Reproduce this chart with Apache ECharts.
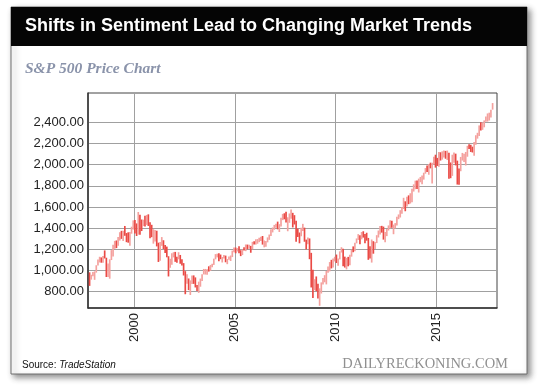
<!DOCTYPE html>
<html>
<head>
<meta charset="utf-8">
<script src="https://cdn.jsdelivr.net/npm/echarts@6/dist/echarts.min.js"></script>
<style>
html,body{margin:0;padding:0;background:#fff;}
#chart{width:540px;height:386px;}
</style>
</head>
<body>
<div id="chart"></div>
<script>
// Monthly bars, Oct 1997 – Oct 2017
const startMonth = "1997-10";
const closes = [
914.6, 955.4, 970.4,
980.3, 1049.3, 1101.8, 1111.8, 1090.8, 1133.8, 1120.7, 957.3, 1017.0, 1098.7, 1163.6, 1229.2,
1279.6, 1238.3, 1286.4, 1335.2, 1301.8, 1372.7, 1328.7, 1320.4, 1282.7, 1362.9, 1389.0, 1469.3,
1394.5, 1366.4, 1498.6, 1452.4, 1420.6, 1454.6, 1430.8, 1517.7, 1436.5, 1429.4, 1315.0, 1320.3,
1366.0, 1239.9, 1160.3, 1249.5, 1256.0, 1224.4, 1211.2, 1133.6, 1040.9, 1059.8, 1139.5, 1148.1,
1130.2, 1106.7, 1147.4, 1076.9, 1067.1, 989.8, 911.6, 916.1, 815.3, 885.8, 936.3, 879.8,
855.7, 841.2, 848.2, 916.9, 963.6, 974.5, 990.3, 1008.0, 996.0, 1050.7, 1058.2, 1111.9,
1131.1, 1144.9, 1126.2, 1107.3, 1120.7, 1140.8, 1101.7, 1104.2, 1114.6, 1130.2, 1173.8, 1211.9,
1181.3, 1203.6, 1180.6, 1156.9, 1191.5, 1191.3, 1234.2, 1220.3, 1228.8, 1207.0, 1249.5, 1248.3,
1280.1, 1280.7, 1294.9, 1310.6, 1270.1, 1270.2, 1276.7, 1303.8, 1335.9, 1377.9, 1400.6, 1418.3,
1438.2, 1406.8, 1420.9, 1482.4, 1530.6, 1503.4, 1455.3, 1474.0, 1526.8, 1549.4, 1481.1, 1468.4,
1378.6, 1330.6, 1322.7, 1385.6, 1400.4, 1280.0, 1267.4, 1282.8, 1166.4, 968.8, 896.2, 903.3,
825.9, 735.1, 797.9, 872.8, 919.1, 919.3, 987.5, 1020.6, 1057.1, 1036.2, 1095.6, 1115.1,
1073.9, 1104.5, 1169.4, 1186.7, 1089.4, 1030.7, 1101.6, 1049.3, 1141.2, 1183.3, 1180.6, 1257.6,
1286.1, 1327.2, 1325.8, 1363.6, 1345.2, 1320.6, 1292.3, 1218.9, 1131.4, 1253.3, 1247.0, 1257.6,
1312.4, 1365.7, 1408.5, 1397.9, 1310.3, 1362.2, 1379.3, 1406.6, 1440.7, 1412.2, 1416.2, 1426.2,
1498.1, 1514.7, 1569.2, 1597.6, 1630.7, 1606.3, 1685.7, 1633.0, 1681.6, 1756.5, 1805.8, 1848.4,
1782.6, 1859.5, 1872.3, 1884.0, 1923.6, 1960.2, 1930.7, 2003.4, 1972.3, 2018.1, 2067.6, 2058.9,
1995.0, 2104.5, 2067.9, 2085.5, 2107.4, 2063.1, 2104.0, 1972.2, 1920.0, 2079.4, 2080.4, 2043.9,
1940.2, 1932.2, 2059.7, 2065.3, 2097.0, 2098.9, 2173.6, 2171.0, 2168.3, 2126.2, 2198.8, 2238.8,
2278.9, 2363.6, 2362.7, 2384.2, 2411.8, 2423.4, 2470.3, 2471.7, 2519.4, 2575.3
];
const opens = [
947.0, 914.6, 955.4,
970.4, 980.3, 1049.3, 1101.8, 1111.8, 1090.8, 1133.8, 1120.7, 957.3, 1017.0, 1098.7, 1163.6,
1229.2, 1279.6, 1238.3, 1286.4, 1335.2, 1301.8, 1372.7, 1328.7, 1320.4, 1282.7, 1362.9, 1389.0,
1469.3, 1394.5, 1366.4, 1498.6, 1452.4, 1420.6, 1454.6, 1430.8, 1517.7, 1436.5, 1429.4, 1315.0,
1320.3, 1366.0, 1239.9, 1160.3, 1249.5, 1256.0, 1224.4, 1211.2, 1133.6, 1040.9, 1059.8, 1139.5,
1148.1, 1130.2, 1106.7, 1147.4, 1076.9, 1067.1, 989.8, 911.6, 916.1, 815.3, 885.8, 936.3,
879.8, 855.7, 841.2, 848.2, 916.9, 963.6, 974.5, 990.3, 1008.0, 996.0, 1050.7, 1058.2,
1111.9, 1131.1, 1144.9, 1126.2, 1107.3, 1120.7, 1140.8, 1101.7, 1104.2, 1114.6, 1130.2, 1173.8,
1211.9, 1181.3, 1203.6, 1180.6, 1156.9, 1191.5, 1191.3, 1234.2, 1220.3, 1228.8, 1207.0, 1249.5,
1248.3, 1280.1, 1280.7, 1294.9, 1310.6, 1270.1, 1270.2, 1276.7, 1303.8, 1335.9, 1377.9, 1400.6,
1418.3, 1438.2, 1406.8, 1420.9, 1482.4, 1530.6, 1503.4, 1455.3, 1474.0, 1526.8, 1549.4, 1481.1,
1468.4, 1378.6, 1330.6, 1322.7, 1385.6, 1400.4, 1280.0, 1267.4, 1282.8, 1166.4, 968.8, 896.2,
903.3, 825.9, 735.1, 797.9, 872.8, 919.1, 919.3, 987.5, 1020.6, 1057.1, 1036.2, 1095.6,
1115.1, 1073.9, 1104.5, 1169.4, 1186.7, 1089.4, 1030.7, 1101.6, 1049.3, 1141.2, 1183.3, 1180.6,
1257.6, 1286.1, 1327.2, 1325.8, 1363.6, 1345.2, 1320.6, 1292.3, 1218.9, 1131.4, 1253.3, 1247.0,
1257.6, 1312.4, 1365.7, 1408.5, 1397.9, 1310.3, 1362.2, 1379.3, 1406.6, 1440.7, 1412.2, 1416.2,
1426.2, 1498.1, 1514.7, 1569.2, 1597.6, 1630.7, 1606.3, 1685.7, 1633.0, 1681.6, 1756.5, 1805.8,
1848.4, 1782.6, 1859.5, 1872.3, 1884.0, 1923.6, 1960.2, 1930.7, 2003.4, 1972.3, 2018.1, 2067.6,
2058.9, 1995.0, 2104.5, 2067.9, 2085.5, 2107.4, 2063.1, 2104.0, 1972.2, 1920.0, 2079.4, 2080.4,
2043.9, 1940.2, 1932.2, 2059.7, 2065.3, 2097.0, 2098.9, 2173.6, 2171.0, 2168.3, 2126.2, 2198.8,
2238.8, 2278.9, 2363.6, 2362.7, 2384.2, 2411.8, 2423.4, 2470.3, 2471.7, 2519.4
];
const highs = [
983, 960, 986,
992, 1050, 1105, 1130, 1124, 1138, 1190, 1121, 1066, 1106, 1193, 1244,
1280, 1284, 1317, 1362, 1375, 1375, 1421, 1354, 1361, 1364, 1414, 1474,
1478, 1445, 1553, 1528, 1482, 1480, 1518, 1525, 1531, 1455, 1432, 1390,
1383, 1376, 1263, 1269, 1316, 1286, 1240, 1226, 1135, 1111, 1164, 1173,
1176, 1131, 1173, 1147, 1107, 1070, 994, 966, 925, 907, 954, 954,
935, 864, 895, 924, 965, 1015, 1015, 1011, 1040, 1053, 1063, 1112,
1155, 1159, 1163, 1151, 1128, 1147, 1141, 1109, 1132, 1142, 1188, 1217,
1217, 1212, 1229, 1192, 1199, 1220, 1246, 1245, 1243, 1233, 1271, 1276,
1295, 1297, 1310, 1318, 1326, 1284, 1280, 1313, 1340, 1390, 1407, 1431,
1441, 1462, 1438, 1498, 1535, 1541, 1556, 1503, 1539, 1576, 1545, 1523,
1471, 1396, 1359, 1404, 1441, 1405, 1292, 1313, 1303, 1167, 1007, 918,
944, 875, 832, 888, 930, 956, 996, 1039, 1080, 1101, 1113, 1130,
1151, 1113, 1181, 1220, 1206, 1131, 1120, 1129, 1148, 1196, 1228, 1263,
1303, 1344, 1333, 1364, 1371, 1346, 1357, 1308, 1230, 1293, 1277, 1270,
1334, 1378, 1420, 1422, 1415, 1364, 1392, 1426, 1475, 1470, 1434, 1448,
1509, 1530, 1570, 1598, 1687, 1654, 1698, 1710, 1730, 1772, 1814, 1849,
1850, 1868, 1884, 1897, 1924, 1968, 1992, 2006, 2019, 2018, 2075, 2094,
2064, 2120, 2117, 2126, 2135, 2130, 2133, 2113, 2021, 2094, 2116, 2104,
2038, 1963, 2073, 2111, 2103, 2120, 2178, 2194, 2188, 2170, 2214, 2278,
2301, 2371, 2401, 2399, 2418, 2454, 2484, 2491, 2519, 2582
];
const lows = [
855, 914, 947,
912, 980, 1047, 1076, 1074, 1074, 1114, 939, 940, 923, 1099, 1132,
1205, 1212, 1234, 1283, 1299, 1278, 1328, 1268, 1263, 1233, 1348, 1387,
1350, 1326, 1339, 1339, 1373, 1420, 1416, 1431, 1421, 1305, 1315, 1254,
1274, 1228, 1081, 1092, 1233, 1203, 1165, 1125, 944, 1026, 1055, 1124,
1082, 1074, 1106, 1064, 1048, 953, 776, 876, 815, 769, 872, 874,
840, 806, 789, 847, 902, 963, 962, 960, 990, 996, 1031, 1053,
1106, 1124, 1087, 1107, 1076, 1113, 1078, 1060, 1102, 1090, 1127, 1173,
1163, 1180, 1163, 1136, 1146, 1188, 1183, 1201, 1206, 1168, 1201, 1246,
1245, 1253, 1268, 1280, 1245, 1219, 1224, 1266, 1290, 1327, 1360, 1385,
1403, 1389, 1364, 1416, 1476, 1484, 1454, 1371, 1451, 1489, 1407, 1435,
1271, 1317, 1257, 1324, 1373, 1272, 1200, 1248, 1107, 840, 741, 815,
805, 735, 667, 783, 867, 889, 869, 979, 992, 1020, 1029, 1086,
1071, 1045, 1105, 1170, 1040, 1028, 1011, 1040, 1049, 1131, 1173, 1181,
1257, 1289, 1249, 1295, 1311, 1258, 1282, 1101, 1114, 1075, 1159, 1203,
1259, 1312, 1341, 1358, 1292, 1267, 1325, 1378, 1397, 1403, 1343, 1398,
1426, 1485, 1501, 1536, 1581, 1560, 1605, 1627, 1633, 1646, 1746, 1768,
1770, 1737, 1834, 1814, 1859, 1915, 1930, 1905, 1965, 1821, 2001, 1972,
1988, 1981, 2039, 2048, 2068, 2056, 2044, 1867, 1872, 1894, 2019, 1993,
1812, 1810, 1938, 2039, 2025, 1992, 2075, 2148, 2120, 2115, 2084, 2188,
2246, 2271, 2322, 2329, 2353, 2406, 2407, 2417, 2446, 2520
];
const yTicks = [800, 1000, 1200, 1400, 1600, 1800, 2000, 2200, 2400];
const xTicks = [2000, 2005, 2010, 2015];

const titleText = "Shifts in Sentiment Lead to Changing Market Trends";
const subtitleText = "S&P 500 Price Chart";

// build bar data: x = decimal year at month centre
const sy = parseInt(startMonth.slice(0, 4), 10);
const sm = parseInt(startMonth.slice(5), 10) - 1;
const barData = closes.map((c, i) => {
  const mi = sm + i;
  const x = sy + Math.floor(mi / 12) + ((mi % 12) + 0.5) / 12;
  return [x, opens[i], c, lows[i], highs[i]];
});

const chart = echarts.init(document.getElementById('chart'), null, {renderer: 'canvas'});
const option = {
  animation: false,
  backgroundColor: '#ffffff',
  graphic: [
    {type: 'rect', z: -10, shape: {x: 11, y: 7, width: 516, height: 367},
     style: {fill: '#fff', stroke: '#6f6f6f', lineWidth: 1, shadowBlur: 6, shadowOffsetX: 3, shadowOffsetY: 3, shadowColor: 'rgba(0,0,0,0.45)'}},
    {type: 'rect', z: -9, shape: {x: 11, y: 7, width: 516, height: 39}, style: {fill: '#050505'}},
    {type: 'text', left: 25, top: 17, style: {text: titleText, fill: '#fff', font: 'bold 18px "Liberation Sans", Arial, sans-serif'}},
    {type: 'text', left: 25, top: 61, style: {text: subtitleText, fill: '#8a93aa', font: 'italic bold 15.5px "Liberation Serif", "DejaVu Serif", serif'}},
    {type: 'text', left: 22, top: 360, style: {
      text: '{a|Source: }{b|TradeStation}',
      rich: {a: {fontSize: 10, fontFamily: '"Liberation Sans", Arial, sans-serif', fill: '#111'},
             b: {fontSize: 10, fontStyle: 'italic', fontFamily: '"Liberation Sans", Arial, sans-serif', fill: '#111'}}}},
    {type: 'text', right: 32, top: 357, style: {text: 'DAILYRECKONING.COM', fill: '#909090', font: '14.5px "Liberation Serif", "DejaVu Serif", serif'}}
  ],
  grid: {left: 88, top: 93, width: 409, height: 215, show: true, borderColor: '#444', borderWidth: 1, backgroundColor: 'transparent'},
  xAxis: {
    type: 'value', min: 1997.714, max: 2018.01,
    axisLine: {show: true, lineStyle: {color: '#333', width: 1.5}},
    axisTick: {show: false, customValues: xTicks},
    axisLabel: {customValues: xTicks, rotate: 90, fontSize: 13, color: '#222', margin: 5,
      fontFamily: '"Liberation Sans", Arial, sans-serif', formatter: v => String(v)},
    splitLine: {show: true, lineStyle: {color: '#a0a0a0', width: 1}}
  },
  yAxis: {
    type: 'value', min: 646, max: 2677,
    axisLine: {show: true, lineStyle: {color: '#333', width: 1.5}},
    axisTick: {show: false, customValues: yTicks},
    axisLabel: {customValues: yTicks, fontSize: 13, color: '#222', margin: 4,
      fontFamily: '"Liberation Sans", Arial, sans-serif',
      formatter: v => v.toLocaleString('en-US', {minimumFractionDigits: 2, maximumFractionDigits: 2})},
    splitLine: {show: true, lineStyle: {color: '#a0a0a0', width: 1}}
  },
  series: [{
    type: 'custom',
    clip: true,
    data: barData,
    encode: {x: 0, y: [3, 4]},
    renderItem: function (params, api) {
      const x = api.value(0);
      const o = api.value(1), c = api.value(2), l = api.value(3), h = api.value(4);
      const pH = api.coord([x, h]);
      const pL = api.coord([x, l]);
      const w = Math.max(1.2, api.size([1 / 12, 0])[0]);
      return {
        type: 'rect',
        shape: {x: pH[0] - w / 2, y: pH[1], width: w, height: Math.max(1, pL[1] - pH[1])},
        style: {fill: c >= o ? '#f4a19e' : '#ea4a45'}
      };
    }
  }]
};
chart.setOption(option);
</script>
</body>
</html>
